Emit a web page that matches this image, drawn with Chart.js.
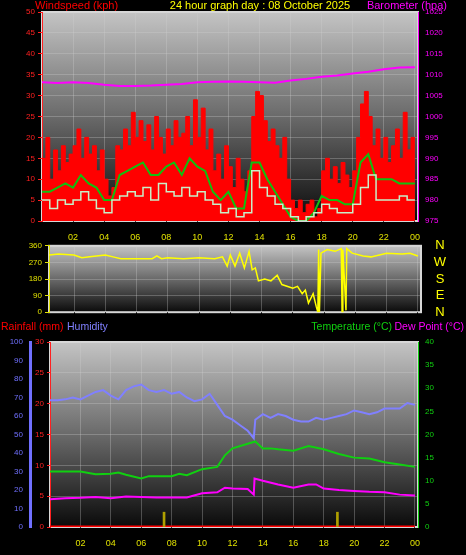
<!DOCTYPE html>
<html><head><meta charset="utf-8">
<script src="https://cdn.jsdelivr.net/npm/chart.js@4.4.1/dist/chart.umd.min.js"></script>
<style>
body{margin:0;background:#000;width:466px;height:555px;overflow:hidden;position:relative}
.c{position:absolute;left:0}
</style></head><body>
<div class="c" style="top:0;width:466px;height:240px"><canvas id="c1"></canvas></div>
<div class="c" style="top:238px;width:466px;height:82px"><canvas id="c2"></canvas></div>
<div class="c" style="top:315px;width:466px;height:240px"><canvas id="c3"></canvas></div>
<script>
const gustValues=[15,20,10,17,12,18,14,16,18,22,15,20,16,18,12,17,10,6,8,18,17,22,18,26,20,24,19,23,17,25,20,16,22,18,24,20,21,25,18,29,20,27,17,22,12,16,10,18,13,8,15,10,7,12,25,31,30,24,19,22,18,15,20,10,5,3,5,2,4,5,1,3,12,15,10,13,9,14,11,8,12,20,28,31,25,18,22,15,20,14,18,22,15,26,17,20,20];
const windValues=[5,3,5,4,5,7,5,3,2,5,6,7,6,8,5,9,7,6,8,6,7,5,4,2,3,1,2,12,8,6,4,3,1,0,1,2,4,3,2,2,4,8,11,5,5,5,6,5,5];
const avgValues=[7,7,8,9,8,11,9,8,5,5,11,12,13,14,11,11,13,14,11,15,13,12,7,5,7,3,3,14,14,10,7,4,1,0,0,2,6,5,5,4,4,14,16,10,10,10,9,9,9];
const baroValues=[1008.2,1008,1008.2,1008,1007.6,1007.3,1007.3,1007.4,1007.6,1007.8,1008.2,1008.3,1008.4,1008.3,1008.2,1008.1,1008.6,1009,1009.5,1009.8,1010.3,1010.7,1011.3,1011.7,1011.8];
const dirTimes=[0.4,1,2,2.5,3,4,4.5,5,6,7,7.3,7.6,8,9,10,11,11.5,11.8,12,12.3,12.6,12.9,13.2,13.4,13.6,13.8,14.2,14.6,15,15.3,16,16.3,16.6,16.8,17,17.3,17.5,17.6,17.65,17.7,17.8,18.2,18.7,19.1,19.15,19.2,19.4,19.45,19.8,20.5,21,22,23,23.5,24];
const dirValues=[310,315,310,295,300,310,300,290,290,290,305,290,295,290,295,290,300,250,310,250,320,240,330,230,240,170,180,170,200,150,130,140,100,120,50,100,30,0,340,0,320,340,330,345,0,340,10,345,320,305,300,320,315,320,305];
const humTimes=[0,0.5,1,1.5,2,2.5,3,3.5,4,4.5,5,5.5,6,6.5,7,7.5,8,8.5,9,9.5,10,10.5,11,11.5,12,12.5,13,13.4,13.5,14,14.5,15,15.5,16,16.5,17,17.5,18,18.5,19,19.5,20,20.5,21,21.5,22,22.5,23,23.5,24];
const humValues=[68.5,68.5,69,70,69,71,73,74,71,69,74,76,77,74,73,74,72,73,70,68,69,72,66,60,58,55,52,48,58,61,59,61,60,58,57,57,59,58,59,60,61,63,62,61,62,64,64,64,67,66];
const tempTimes=[0,2,3,4,4.5,5,6,6.5,8,8.5,9,10,11,11.5,12,13,13.5,14,14.5,15,16,17,18,19,20,21,22,23,24];
const tempValues=[12,12,11.4,11.5,11.8,11.3,10.5,11,11,11.5,11.2,12.5,13,15.5,17,18,18.5,17,17,16.8,16.5,17.5,16.8,15.8,15,14.8,14,13.5,13];
const dewTimes=[0,1,2,3,4,5,6,7,8,9,10,11,11.5,12,13,13.4,13.45,14,15,16,17,17.5,18,19,20,21,22,23,24];
const dewValues=[6,6.2,6.3,6.5,6.2,6.6,6.5,6.4,6.4,6.4,7.3,7.5,8.5,8.3,8.2,7,10.5,10,9.2,8.5,9.2,9.2,8.3,8,7.8,7.6,7.5,7,6.8];
const rainRateTimes=[7.5,18.9];
const rainRateValues=[2.4,2.4];
const rainTotalTimes=[0,24];
const rainTotalValues=[0,0];
const hourTicks=['02','04','06','08','10','12','14','16','18','20','22','00'];

const pts=(t,v)=>v.map((y,i)=>({x:t[i],y}));
const step=(v,d)=>v.map((y,i)=>({x:i*d,y}));
const F="'Liberation Sans',Arial,sans-serif";
const bg={id:'bg',beforeDraw(c){const a=c.chartArea,x=c.ctx;const g=x.createLinearGradient(0,a.top,0,a.bottom);g.addColorStop(0,'#c4c4c4');g.addColorStop(0.5,'#6a6a6a');g.addColorStop(1,'#0a0a0a');x.save();x.fillStyle=g;x.fillRect(a.left,a.top,a.right-a.left,a.bottom-a.top);x.strokeStyle='#d8d8d8';x.lineWidth=2;x.strokeRect(a.left,a.top,a.right-a.left,a.bottom-a.top);x.restore();}};
function texts(list,size){return {id:'tx',afterDraw(c){const x=c.ctx;x.save();x.font=size+'px '+F;x.textBaseline='middle';list.forEach(t=>{x.fillStyle=t[3];x.textAlign=t[4]||'left';x.fillText(t[0],t[1],t[2]);});x.restore();}};}
function xAxis(min,display,h){return {type:'linear',min,max:24.2,offset:false,afterBuildTicks(s){s.ticks=[2,4,6,8,10,12,14,16,18,20,22,24].map(v=>({value:v}));},
 ticks:{display,color:'#e0e000',font:{size:9,family:F},maxRotation:0,callback:(v)=>hourTicks[v/2-1]},grid:{color:'rgba(210,210,210,0.3)',tickColor:'#000',offset:false},border:{display:false},afterFit(s){s.height=h;}};}
function yAxis(pos,min,max,stp,col,w,extra){return Object.assign({type:'linear',position:pos,min,max,ticks:{stepSize:stp,color:col,font:{size:8,family:F},padding:3,callback:v=>String(v)},grid:{display:false,tickColor:col,tickLength:4},border:{color:col},afterFit(s){s.width=w;}},extra||{});}
const common={responsive:true,maintainAspectRatio:false,animation:false,plugins:{legend:{display:false},tooltip:{enabled:false}},elements:{point:{radius:0}}};

new Chart(document.getElementById('c1'),{type:'line',data:{datasets:[
 {data:pts(baroValues.map((_,i)=>i),baroValues),yAxisID:'yb',borderColor:'#ff00ff',borderWidth:2},
 {data:step(windValues,0.5),yAxisID:'y',borderColor:'#c8f0c8',borderWidth:1.5,stepped:true},
 {data:step(avgValues,0.5),yAxisID:'y',borderColor:'#10c010',borderWidth:2},
 {data:step(gustValues,0.25),yAxisID:'y',borderColor:'#ff0000',backgroundColor:'#ff0000',fill:'origin',borderWidth:1,stepped:true}
]},options:Object.assign({},common,{layout:{padding:{top:12}},scales:{
 x:xAxis(0,true,19),
 y:yAxis('left',0,50,5,'#ff2020',42,{grid:{color:'rgba(210,210,210,0.3)',tickColor:'#ff2020',tickLength:4}}),
 yb:yAxis('right',975,1025,5,'#ff00ff',48)}}),
 plugins:[bg,texts([['Windspeed (kph)',35,6,'#ff0000'],['24 hour graph day : 08 October 2025',260,6,'#ffff00','center'],['Barometer (hpa)',447,6,'#ff00ff','right']],11)]});

const letterVals=[0,90,180,270,360], letterText=['N','E','S','W','N'];
const letterPlugin={id:'lt',afterDraw(c){const s=c.scales.y,x=c.ctx;x.save();x.font='13px '+F;x.fillStyle='#ffff00';x.textAlign='center';x.textBaseline='middle';
 letterVals.forEach((v,i)=>{const p=s.getPixelForValue(v);x.fillText(letterText[i],440,p);});x.restore();}};
new Chart(document.getElementById('c2'),{type:'line',data:{datasets:[
 {data:pts(dirTimes,dirValues),yAxisID:'y',borderColor:'#ffff00',borderWidth:1.5}
]},options:Object.assign({},common,{layout:{padding:{top:0,bottom:0}},scales:{
 x:xAxis(0.4,false,2),
 y:yAxis('left',0,360,90,'#e0e000',49,{grid:{color:'rgba(210,210,210,0.3)',tickColor:'#e0e000',tickLength:4}}),
 yd:{type:'linear',position:'right',min:0,max:360,ticks:{display:false},grid:{display:false},border:{display:false},afterFit(s){s.width=45;}}}}),
 plugins:[bg,letterPlugin]});

new Chart(document.getElementById('c3'),{data:{datasets:[
 {type:'line',data:pts(humTimes,humValues),yAxisID:'yh',borderColor:'#8080ff',borderWidth:2},
 {type:'line',data:pts(tempTimes,tempValues),yAxisID:'yt',borderColor:'#10d010',borderWidth:2},
 {type:'line',data:pts(dewTimes,dewValues),yAxisID:'yt',borderColor:'#ff00ff',borderWidth:2},
 {type:'bar',data:pts(rainRateTimes,rainRateValues),yAxisID:'yr',backgroundColor:'#b0a000',barThickness:2},
 {type:'line',data:pts(rainTotalTimes,rainTotalValues),yAxisID:'yr',borderColor:'#ff0000',borderWidth:3}
]},options:Object.assign({},common,{layout:{padding:{top:27}},scales:{
 x:xAxis(0,true,28),
 yr:yAxis('left',0,30,5,'#ff2020',20,{grid:{color:'rgba(210,210,210,0.3)',tickColor:'#ff2020',tickLength:3}}),
 yh:yAxis('left',0,100,10,'#7070ff',30,{border:{color:'#7070ff',width:3}}),
 yt:yAxis('right',0,40,5,'#10d010',48)}}),
 plugins:[bg,texts([['Rainfall (mm)',1,12,'#ff0000'],['Humidity',67,12,'#8080ff'],['Temperature (°C)',392,12,'#10d010','right'],['Dew Point (°C)',464,12,'#ff00ff','right']],10.5)]});
</script></body></html>
